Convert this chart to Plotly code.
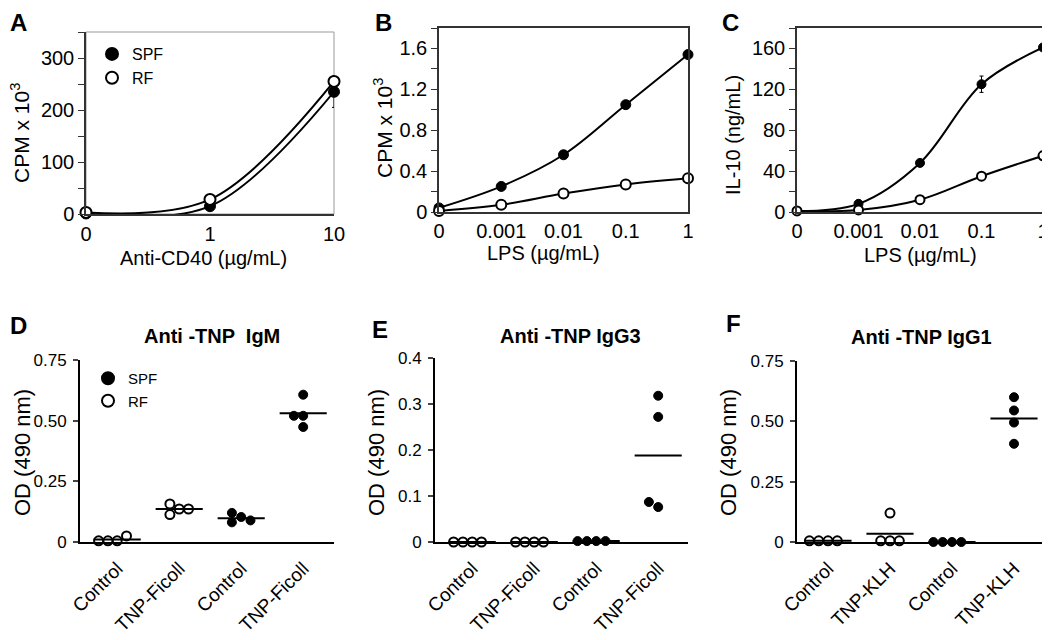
import numpy as np
import plotly.graph_objects as go

FONT = "Liberation Sans, Arial, sans-serif"
# the page body keeps its default 8px margin, so the figure is drawn 8px in
OFF = 8
W, H = 1050 - OFF, 640 - OFF

# ---- data -------------------------------------------------------------
# A: proliferation to anti-CD40
cd40_labels = ["0", "1", "10"]
a_spf = [1, 15, 235]
a_rf = [3, 28, 255]
a_spf_err = [0, 0, 30]

# B: proliferation to LPS
lps_labels = ["0", "0.001", "0.01", "0.1", "1"]
b_spf = [0.04, 0.25, 0.56, 1.05, 1.54]
b_rf = [0.01, 0.07, 0.18, 0.27, 0.33]

# C: IL-10 to LPS
c_spf = [1, 8, 48, 125, 161]
c_rf = [1, 2, 12, 35, 55]
c_spf_err = [0, 0, 0, 8, 0]

# D-F: anti-TNP titres, groups = RF control, RF immunised, SPF control, SPF immunised
ficoll_labels = ["Control", "TNP-Ficoll", "Control", "TNP-Ficoll"]
klh_labels = ["Control", "TNP-KLH", "Control", "TNP-KLH"]
group_spf = [False, False, True, True]

d_igm = [[0.005, 0.005, 0.025, 0.005],
         [0.136, 0.113, 0.157, 0.136],
         [0.103, 0.081, 0.120, 0.089],
         [0.520, 0.607, 0.474, 0.520]]
e_igg3 = [[0.0, 0.0, 0.0, 0.0],
          [0.0, 0.0, 0.0, 0.0],
          [0.002, 0.002, 0.002, 0.002],
          [0.318, 0.272, 0.076, 0.087]]
f_igg1 = [[0.005, 0.005, 0.005, 0.005],
          [0.120, 0.005, 0.005, 0.005],
          [0.0, 0.0, 0.0, 0.0],
          [0.600, 0.545, 0.495, 0.407]]


def fx(p):
    return (p - OFF) / W


def fy(p):
    return 1 - (p - OFF) / H


def px_x(a, b):
    return [fx(a), fx(b)]


def px_y(top, bottom):
    return [fy(bottom), fy(top)]


fig = go.Figure()


def spf_marker(size):
    return dict(size=size, color="black", line=dict(color="black", width=1))


def rf_marker(size):
    return dict(size=size, color="white", line=dict(color="black", width=2))


def curve_panel(n, xs, spf, rf, spf_err, msize, legend=None):
    xa, ya = f"x{n}", f"y{n}"
    line = dict(color="black", width=2, shape="spline", smoothing=1)
    for vals in (spf, rf):
        fig.add_trace(go.Scatter(x=xs, y=vals, mode="lines", line=line,
                                 xaxis=xa, yaxis=ya, showlegend=False, cliponaxis=False))
    fig.add_trace(go.Scatter(x=xs, y=spf, mode="markers", name="SPF", marker=spf_marker(msize),
                             error_y=dict(type="data", array=spf_err, color="black", thickness=1, width=2),
                             xaxis=xa, yaxis=ya, showlegend=legend is not None,
                             legend=legend or "legend", cliponaxis=False))
    fig.add_trace(go.Scatter(x=xs, y=rf, mode="markers", name="RF", marker=rf_marker(msize),
                             xaxis=xa, yaxis=ya, showlegend=legend is not None,
                             legend=legend or "legend", cliponaxis=False))


def swarm(values, step, px_per_unit, diam):
    # place points side by side when they would overlap (simple beeswarm)
    placed = []
    offs = []
    cands = [0]
    for k in range(1, 6):
        cands += [-k * step, k * step]
    for v in values:
        for c in cands:
            ok = True
            for (pc, pv) in placed:
                dx = (c - pc) / step * diam
                dy = (v - pv) * px_per_unit
                if dx * dx + dy * dy < (diam * 0.95) ** 2:
                    ok = False
                    break
            if ok:
                break
        placed.append((c, v))
        offs.append(c)
    return offs


def dot_panel(n, groups, ymax, axis_px, legend=None):
    xa, ya = f"x{n}", f"y{n}"
    diam = 9
    step = 0.15
    mx, my = [], []
    for gi, vals in enumerate(groups):
        offs = swarm(vals, step, axis_px / ymax, diam)
        xs = [gi + o for o in offs]
        is_spf = group_spf[gi]
        fig.add_trace(go.Scatter(x=xs, y=vals, mode="markers",
                                 name="SPF" if is_spf else "RF",
                                 marker=spf_marker(diam) if is_spf else rf_marker(diam),
                                 xaxis=xa, yaxis=ya, cliponaxis=False,
                                 showlegend=legend is not None and gi in (0, 2),
                                 legend=legend or "legend"))
        m = float(np.mean(vals))
        mx += [gi - 0.38, gi + 0.38, None]
        my += [m, m, None]
    fig.add_trace(go.Scatter(x=mx, y=my, mode="lines", line=dict(color="black", width=2),
                             xaxis=xa, yaxis=ya, showlegend=False, cliponaxis=False))


curve_panel(1, [0, 1, 2], a_spf, a_rf, a_spf_err, 11, legend="legend")
curve_panel(2, list(range(5)), b_spf, b_rf, [0] * 5, 10)
curve_panel(3, list(range(5)), c_spf, c_rf, c_spf_err, 9)
dot_panel(4, d_igm, 0.75, 182, legend="legend2")
dot_panel(5, e_igg3, 0.4, 184)
dot_panel(6, f_igg1, 0.75, 181)

tick_font = dict(family=FONT, size=20, color="black")
small_tick = dict(family=FONT, size=17, color="black")

frame = dict(showline=True, mirror=True, linecolor="#333", linewidth=1.5,
             showgrid=False, zeroline=False, automargin=False)

layout = dict(
    width=W, height=H, paper_bgcolor="white", plot_bgcolor="white",
    margin=dict(l=0, r=0, t=0, b=0, autoexpand=False), font=dict(family=FONT, color="black"),
    showlegend=True,
    legend=dict(x=fx(92), y=fy(37), xanchor="left", yanchor="top",
                font=dict(family=FONT, size=16), bgcolor="rgba(0,0,0,0)",
                itemsizing="constant", tracegroupgap=0, itemwidth=30),
    legend2=dict(x=fx(88), y=fy(362), xanchor="left", yanchor="top",
                 font=dict(family=FONT, size=15), bgcolor="rgba(0,0,0,0)",
                 itemsizing="constant", tracegroupgap=0, traceorder="reversed", itemwidth=30),
)

# top row (panel A: dark left/bottom axes, pale frame on top/right)
layout["xaxis"] = dict(frame, mirror=False, domain=px_x(86, 334), range=[0, 2], tickvals=[0, 1, 2],
                       ticktext=cd40_labels, tickfont=tick_font, ticks="", ticklabelstandoff=1,
                       anchor="y")
layout["yaxis"] = dict(frame, mirror=False, domain=px_y(32, 214), range=[0, 350],
                       tickvals=[0, 100, 200, 300],
                       tickfont=tick_font, ticks="outside", ticklen=6, tickcolor="#333",
                       minor=dict(dtick=50, ticks="outside", ticklen=6, tickcolor="#333"),
                       anchor="x")
layout["xaxis2"] = dict(frame, domain=px_x(439, 688), range=[0, 4], tickvals=list(range(5)),
                        ticktext=lps_labels, tickfont=tick_font, ticks="", ticklabelstandoff=0,
                        anchor="y2")
layout["yaxis2"] = dict(frame, domain=px_y(28, 212), range=[0, 1.8],
                        tickvals=[0, 0.4, 0.8, 1.2, 1.6], ticktext=["0", "0.4", "0.8", "1.2", "1.6"],
                        tickfont=tick_font, ticks="outside", ticklen=6, tickcolor="#333",
                        minor=dict(dtick=0.2, ticks="outside", ticklen=6, tickcolor="#333"),
                        anchor="x2")
layout["xaxis3"] = dict(frame, domain=px_x(797, 1043), range=[0, 4], tickvals=list(range(5)),
                        ticktext=lps_labels, tickfont=tick_font, ticks="", ticklabelstandoff=0,
                        anchor="y3")
layout["yaxis3"] = dict(frame, domain=px_y(28, 212), range=[0, 180],
                        tickvals=[0, 40, 80, 120, 160],
                        tickfont=tick_font, ticks="outside", ticklen=6, tickcolor="#333",
                        minor=dict(dtick=20, ticks="outside", ticklen=6, tickcolor="#333"),
                        anchor="x3")

# bottom row
open_ax = dict(showline=True, mirror=False, linecolor="black", linewidth=2,
               showgrid=False, zeroline=False, automargin=False)
bottom = [(4, 80, 334, 360, 0.75, [0, 0.25, 0.5, 0.75], ["0", "0.25", "0.50", "0.75"], ficoll_labels, -0.6),
          (5, 435, 688, 358, 0.4, [0, 0.1, 0.2, 0.3, 0.4], ["0", "0.1", "0.2", "0.3", "0.4"], ficoll_labels, -0.6),
          (6, 797, 1043, 361, 0.75, [0, 0.25, 0.5, 0.75], ["0", "0.25", "0.50", "0.75"], klh_labels, -0.5)]
for n, x0, x1, top, ymax, tv, tt, cats, xmin in bottom:
    layout[f"xaxis{n}"] = dict(open_ax, domain=px_x(x0, x1), range=[xmin, xmin + (x1 - x0) / 62],
                               tickvals=list(range(4)), ticktext=cats, tickangle=-45,
                               tickfont=dict(family=FONT, size=19, color="black"), ticks="",
                               ticklabelstandoff=6, anchor=f"y{n}")
    layout[f"yaxis{n}"] = dict(open_ax, domain=px_y(top, 542), range=[0, ymax], tickvals=tv,
                               ticktext=tt, tickfont=small_tick, ticks="outside", ticklen=5,
                               tickwidth=2, anchor=f"x{n}", ticklabelstandoff=3)

fig.update_layout(**layout)

fig.add_shape(type="rect", xref="x domain", yref="y domain", x0=0, x1=1, y0=0, y1=1,
              line=dict(color="#999", width=1), layer="below")


def label(x, y, text, size, bold=False, angle=0):
    fig.add_annotation(x=fx(x), y=fy(y), xref="paper", yref="paper", text=f"<b>{text}</b>" if bold else text,
                       showarrow=False, xanchor="center", yanchor="middle", textangle=angle,
                       font=dict(family=FONT, size=size, color="black"))


for letter, x, y in [("A", 18, 22), ("B", 383, 22), ("C", 730, 22),
                     ("D", 18, 325), ("E", 380, 329), ("F", 733, 323)]:
    label(x, y, letter, 24, bold=True)

label(20, 133, "CPM x 10<sup>3</sup>", 21, angle=-90)
label(203, 258, "Anti-CD40 (\u00b5g/mL)", 20)
label(383, 128, "CPM x 10<sup>3</sup>", 21, angle=-90)
label(543, 253, "LPS (\u00b5g/mL)", 20)
label(733, 135, "IL-10 (ng/mL)", 20, angle=-90)
label(920, 255, "LPS (\u00b5g/mL)", 20)

for x in (22, 376, 728):
    label(x, 453, "OD (490 nm)", 22, angle=-90)

label(212, 336, "Anti -TNP  IgM", 20, bold=True)
label(570, 336, "Anti -TNP IgG3", 20, bold=True)
label(921, 337, "Anti -TNP IgG1", 20, bold=True)

fig.write_html("out.html")
